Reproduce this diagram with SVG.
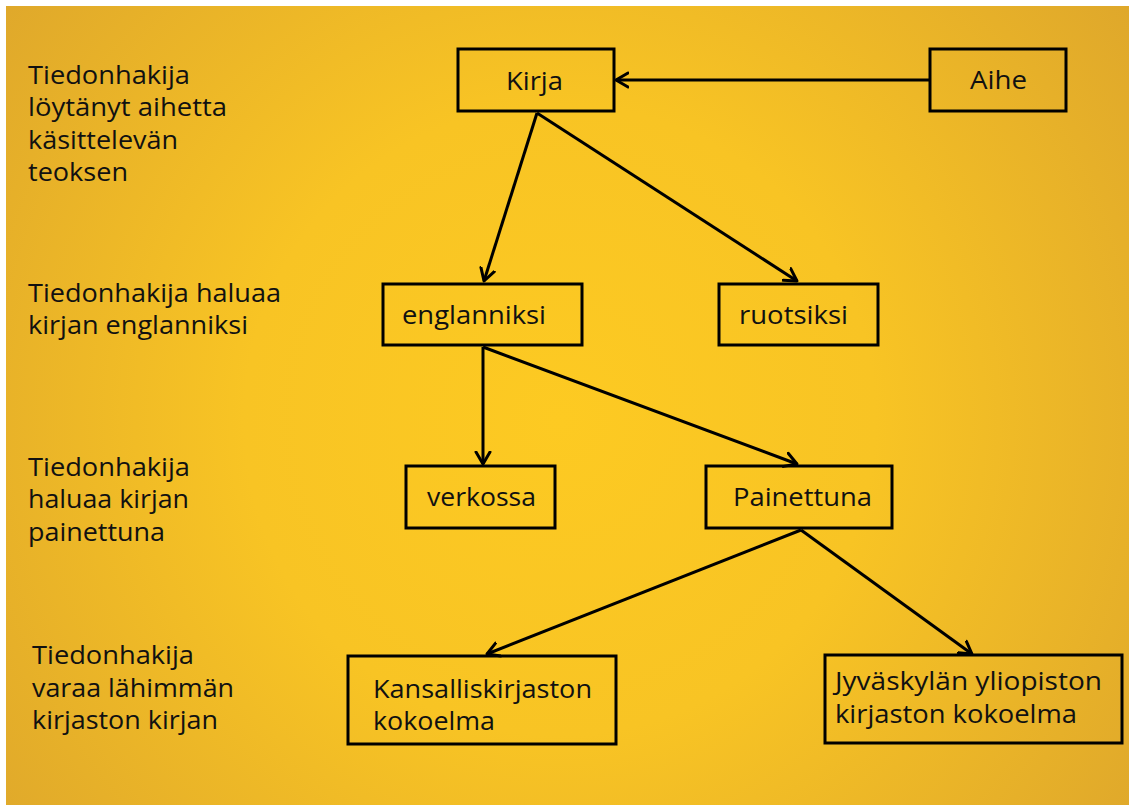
<svg xmlns="http://www.w3.org/2000/svg" width="1129" height="807" viewBox="0 0 1129 807">
  <defs>
    <radialGradient id="bg" gradientUnits="userSpaceOnUse" cx="560" cy="420" r="700">
      <stop offset="0" stop-color="#FDCA22"/>
      <stop offset="0.45" stop-color="#F8C424"/>
      <stop offset="1" stop-color="#DFA82B"/>
    </radialGradient>
    <marker id="arr" markerUnits="userSpaceOnUse" markerWidth="20" markerHeight="20" refX="13" refY="8" orient="auto" viewBox="0 0 20 16">
      <path d="M1,1 L13,8 L1,15" fill="none" stroke="#000" stroke-width="3" stroke-linecap="round" stroke-linejoin="round"/>
    </marker>
    <style>
      .box { fill: none; stroke: #000; stroke-width: 3; }
      .t { font-family: "Open Sans", "Noto Sans", "Liberation Sans", sans-serif; font-size: 25px; fill: #111; }
      .c { stroke: #000; stroke-width: 3; fill: none; marker-end: url(#arr); }
    </style>
  </defs>
  <rect x="0" y="0" width="1129" height="807" fill="#fff"/>
  <rect x="6" y="6" width="1123" height="799" fill="url(#bg)"/>

  <g id="labels">
    <text class="t" x="28" y="84" textLength="162" lengthAdjust="spacingAndGlyphs">Tiedonhakija</text>
    <text class="t" x="28" y="116" textLength="199" lengthAdjust="spacingAndGlyphs">löytänyt aihetta</text>
    <text class="t" x="28" y="149" textLength="150" lengthAdjust="spacingAndGlyphs">käsittelevän</text>
    <text class="t" x="28" y="181" textLength="100" lengthAdjust="spacingAndGlyphs">teoksen</text>

    <text class="t" x="28" y="302" textLength="253" lengthAdjust="spacingAndGlyphs">Tiedonhakija haluaa</text>
    <text class="t" x="28" y="334" textLength="220" lengthAdjust="spacingAndGlyphs">kirjan englanniksi</text>

    <text class="t" x="28" y="476" textLength="162" lengthAdjust="spacingAndGlyphs">Tiedonhakija</text>
    <text class="t" x="28" y="508" textLength="161" lengthAdjust="spacingAndGlyphs">haluaa kirjan</text>
    <text class="t" x="28" y="541" textLength="137" lengthAdjust="spacingAndGlyphs">painettuna</text>

    <text class="t" x="32" y="664" textLength="162" lengthAdjust="spacingAndGlyphs">Tiedonhakija</text>
    <text class="t" x="32" y="697" textLength="202" lengthAdjust="spacingAndGlyphs">varaa lähimmän</text>
    <text class="t" x="32" y="729" textLength="186" lengthAdjust="spacingAndGlyphs">kirjaston kirjan</text>
  </g>

  <g id="connectors">
    <line class="c" x1="930" y1="80" x2="616" y2="80"/>
    <line class="c" x1="537" y1="113" x2="484" y2="281"/>
    <line class="c" x1="537" y1="113" x2="797" y2="281"/>
    <line class="c" x1="483" y1="347" x2="483" y2="464"/>
    <line class="c" x1="483" y1="347" x2="797" y2="464"/>
    <line class="c" x1="801" y1="530" x2="487" y2="654"/>
    <line class="c" x1="801" y1="530" x2="972" y2="654"/>
  </g>

  <g id="kirja">
    <rect class="box" x="458" y="49" width="156" height="62"/>
    <text class="t" x="506" y="90" textLength="57" lengthAdjust="spacingAndGlyphs">Kirja</text>
  </g>
  <g id="aihe">
    <rect class="box" x="930" y="49" width="136" height="62"/>
    <text class="t" x="970" y="89" textLength="57" lengthAdjust="spacingAndGlyphs">Aihe</text>
  </g>
  <g id="englanniksi">
    <rect class="box" x="383" y="284" width="199" height="61"/>
    <text class="t" x="402" y="324" textLength="144" lengthAdjust="spacingAndGlyphs">englanniksi</text>
  </g>
  <g id="ruotsiksi">
    <rect class="box" x="719" y="284" width="159" height="61"/>
    <text class="t" x="739" y="324" textLength="109" lengthAdjust="spacingAndGlyphs">ruotsiksi</text>
  </g>
  <g id="verkossa">
    <rect class="box" x="406" y="466" width="149" height="62"/>
    <text class="t" x="427" y="506" textLength="109" lengthAdjust="spacingAndGlyphs">verkossa</text>
  </g>
  <g id="painettuna">
    <rect class="box" x="706" y="466" width="186" height="62"/>
    <text class="t" x="733" y="506" textLength="139" lengthAdjust="spacingAndGlyphs">Painettuna</text>
  </g>
  <g id="kansalliskirjasto">
    <rect class="box" x="348" y="656" width="268" height="88"/>
    <text class="t" x="373" y="698" textLength="219" lengthAdjust="spacingAndGlyphs">Kansalliskirjaston</text>
    <text class="t" x="373" y="730" textLength="122" lengthAdjust="spacingAndGlyphs">kokoelma</text>
  </g>
  <g id="jyvaskyla">
    <rect class="box" x="825" y="655" width="297" height="88"/>
    <text class="t" x="835" y="690" textLength="267" lengthAdjust="spacingAndGlyphs">Jyväskylän yliopiston</text>
    <text class="t" x="835" y="723" textLength="242" lengthAdjust="spacingAndGlyphs">kirjaston kokoelma</text>
  </g>
</svg>
